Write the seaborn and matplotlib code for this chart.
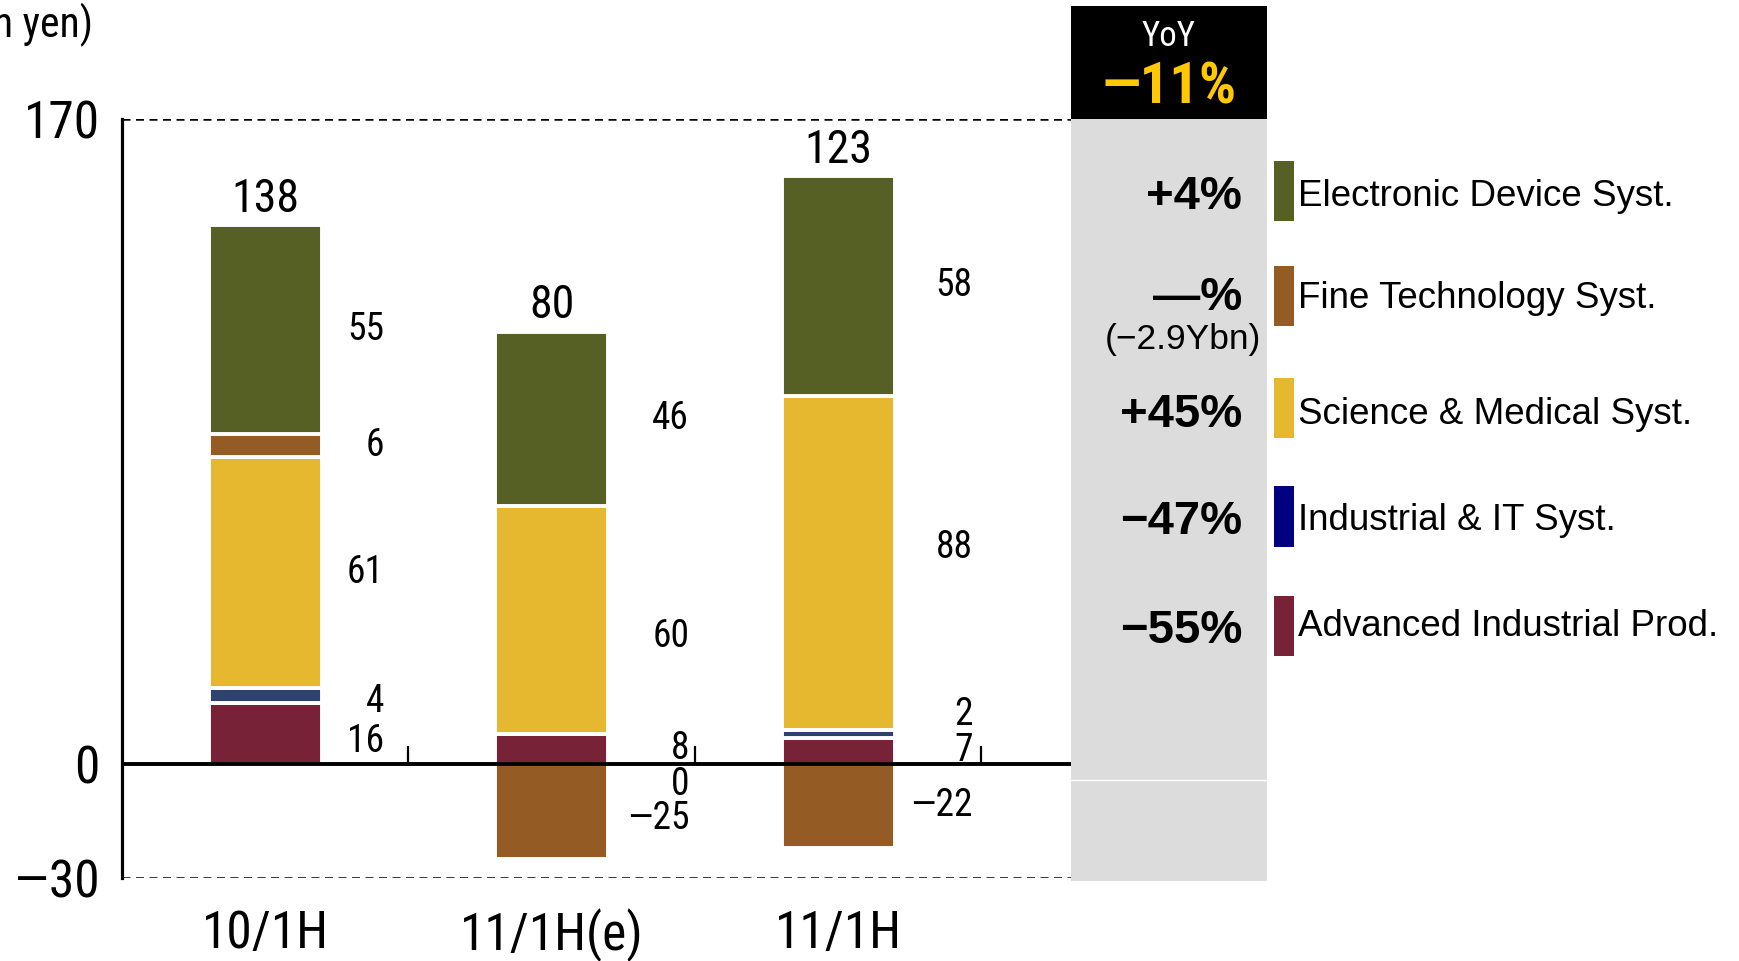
import numpy as np
import pandas as pd
import matplotlib
matplotlib.use("Agg")
import matplotlib.pyplot as plt
from matplotlib import font_manager as fm
from matplotlib.patches import Rectangle
from matplotlib.lines import Line2D
import seaborn as sns

# ---- data (billion yen) ----
periods = ["10/1H", "11/1H(e)", "11/1H"]
electronic = [55, 46, 58]
fine_tech = [6, -25, -22]
science = [61, 60, 88]
industrial_it = [4, 0, 2]
advanced = [16, 8, 7]
totals = [138, 80, 123]

segment_names = ["Electronic Device Syst.", "Fine Technology Syst.",
                 "Science & Medical Syst.", "Industrial & IT Syst.",
                 "Advanced Industrial Prod."]
yoy_total = "\u201411%"
yoy_segments = ["+4%", "\u2014%", "+45%", "\u221247%", "\u221255%"]
fine_tech_note = "(\u22122.9Ybn)"
unit_label = "(Billion yen)"
y_tick_values = [170, 0, -30]

# ---- styling ----
bar_colors = {
    "Electronic Device Syst.": "#565F24",
    "Fine Technology Syst.": "#955B24",
    "Science & Medical Syst.": "#E5B82F",
    "Industrial & IT Syst.": "#2E4272",
    "Advanced Industrial Prod.": "#782238",
}
legend_colors = {**bar_colors, "Industrial & IT Syst.": "#000080"}

sns.set_theme(style="white")

# pick a condensed face for the numerals when one is installed
fonts = fm.fontManager.ttflist
names = {f.name for f in fonts}
narrow = None
nscale = 1.0
for cand in ["Liberation Sans Narrow", "Roboto Condensed",
             "Open Sans Condensed", "Noto Sans Condensed"]:
    if cand in names:
        narrow = dict(family=[cand, "DejaVu Sans"], fontstretch="normal")
        break
if narrow is None:
    if any(f.name == "DejaVu Sans" and f.stretch == "condensed" for f in fonts):
        narrow = dict(family=["DejaVu Sans"], fontstretch="condensed")
        nscale = 0.86
    else:
        narrow = dict(family=["Liberation Sans", "DejaVu Sans"],
                      fontstretch="normal")
        nscale = 0.88
REGULAR = ["Liberation Sans", "DejaVu Sans"]
plt.rcParams["font.family"] = REGULAR
DASH = "\u2014"  # wide minus used with the condensed numerals


def nsize(pt):
    return pt * nscale


def num(v):
    return f"{int(v)}" if v >= 0 else f"{DASH}{int(abs(v))}"


W, H = 1740, 961
fig = plt.figure(figsize=(W / 100, H / 100), dpi=100)
fig.patch.set_facecolor("white")


def fx(px):
    return px / W


def fy(py):
    return 1 - py / H


ax_left, ax_right, ax_top, ax_bottom = 122, 1071, 119, 878
ax = fig.add_axes([fx(ax_left), fy(ax_bottom), (ax_right - ax_left) / W,
                   (ax_bottom - ax_top) / H])
ax.set_facecolor("white")

# stacking order from the zero line upwards
stack = [
    ("Advanced Industrial Prod.", advanced),
    ("Industrial & IT Syst.", industrial_it),
    ("Science & Medical Syst.", science),
    ("Fine Technology Syst.", fine_tech),
    ("Electronic Device Syst.", electronic),
]

label_y_override = {
    ("Advanced Industrial Prod.", 0): 6.0,
    ("Industrial & IT Syst.", 0): 16.6,
    ("Industrial & IT Syst.", 1): -5.3,
    ("Industrial & IT Syst.", 2): 13.2,
    ("Science & Medical Syst.", 1): 33.6,
    ("Science & Medical Syst.", 2): 57.0,
    ("Fine Technology Syst.", 1): -14.3,
}
label_dx = [0.415, 0.48, 0.47]

pos_base = np.zeros(len(periods))
neg_base = np.zeros(len(periods))
for name, vals in stack:
    v = np.asarray(vals, dtype=float)
    bottom = np.where(v >= 0, pos_base, neg_base)
    df = pd.DataFrame({"period": periods, "value": v})
    sns.barplot(data=df, x="period", y="value", order=periods,
                bottom=bottom, color=bar_colors[name], saturation=1,
                width=0.395, edgecolor="white", linewidth=2.8,
                errorbar=None, ax=ax, zorder=2)
    for i, val in enumerate(v):
        y = label_y_override.get((name, i), bottom[i] + val / 2)
        ax.text(i + label_dx[i], y, num(val), ha="right", va="center",
                fontsize=nsize(27), color="black", zorder=6, **narrow)
    pos_base = np.where(v >= 0, pos_base + v, pos_base)
    neg_base = np.where(v < 0, neg_base + v, neg_base)

# net totals above each stack
for i, t in enumerate(totals):
    ax.annotate(num(t), (i, pos_base[i]), xytext=(0, 19),
                textcoords="offset points", ha="center", va="center",
                fontsize=nsize(33), color="black", **narrow)

# axes frame
ax.set_xlim(-0.5, 2.813)
ax.set_ylim(-30, 170)
for s in ["top", "right", "bottom"]:
    ax.spines[s].set_visible(False)
ax.spines["left"].set_color("black")
ax.spines["left"].set_linewidth(2.3)
ax.spines["left"].set_zorder(6)

ax.axhline(0, color="black", lw=2.8, zorder=5)
dash = (0, (3.2, 2.2))
ax.axhline(170, color="black", lw=1.8, ls=dash, zorder=1)
ax.axhline(-30, color="black", lw=1.8, ls=dash, zorder=1)
ax.vlines(np.arange(len(periods)) + 0.5, 0, 4.7, color="black", lw=1.6,
          zorder=5)

ax.set_yticks(y_tick_values)
ax.set_yticklabels([num(v) for v in y_tick_values])
ax.set_yticks([-30], minor=True)
ax.set_xticks(range(len(periods)))
ax.set_xticklabels(periods)
for lab in ax.get_yticklabels() + ax.get_xticklabels():
    lab.set_fontsize(nsize(37))
    lab.set_family(narrow["family"])
    lab.set_fontstretch(narrow["fontstretch"])
    lab.set_color("black")
ax.tick_params(axis="y", which="major", length=0, pad=16)
ax.tick_params(axis="y", which="minor", left=True, direction="in",
               length=14, width=1.8, color="black")
ax.tick_params(axis="x", length=0, pad=22)
ax.set_xlabel("")
ax.set_ylabel("")
ax.grid(False)

# unit label (runs off the left edge)
fig.text(fx(93), fy(25), unit_label, ha="right", va="center", fontsize=30,
         color="black", **narrow)

# YoY side panel
box_l, box_r = 1071, 1267
fig.add_artist(Rectangle((fx(box_l), fy(881)), (box_r - box_l) / W,
                         (881 - 119) / H, transform=fig.transFigure,
                         facecolor="#DCDCDC", edgecolor="none", zorder=0))
fig.add_artist(Rectangle((fx(box_l), fy(119)), (box_r - box_l) / W,
                         (119 - 6) / H, transform=fig.transFigure,
                         facecolor="black", edgecolor="none", zorder=0))
fig.add_artist(Line2D([fx(box_l), fx(box_r)], [fy(780), fy(780)],
                      transform=fig.transFigure, color="white", lw=1))
box_cx = (box_l + box_r) / 2
fig.text(fx(box_cx), fy(37), "YoY", ha="center", va="center",
         fontsize=nsize(25), color="white", **narrow)
fig.text(fx(box_cx), fy(88), yoy_total, ha="center", va="center",
         fontsize=nsize(42), fontweight="bold", color="#FFC800", **narrow)

row_y = [197, 298, 415, 522, 631]
for y, txt in zip(row_y, yoy_segments):
    fig.text(fx(1242), fy(y), txt, ha="right", va="center", fontsize=34,
             fontweight="bold", family=REGULAR, color="black")
fig.text(fx(1261), fy(339), fine_tech_note, ha="right", va="center",
         fontsize=25.5, family=REGULAR, color="black")

# legend
patch_rows = [(161, 221), (266, 326), (378, 438), (486, 547), (596, 656)]
text_y = [197, 299, 415, 521, 627]
for name, (t, b), ty in zip(segment_names, patch_rows, text_y):
    fig.add_artist(Rectangle((fx(1274), fy(b)), 20 / W, (b - t) / H,
                             transform=fig.transFigure,
                             facecolor=legend_colors[name], edgecolor="none"))
    fig.text(fx(1298), fy(ty), name, ha="left", va="center", fontsize=26.5,
             family=REGULAR, color="black")

fig.savefig("out.png", dpi=100, facecolor="white")
